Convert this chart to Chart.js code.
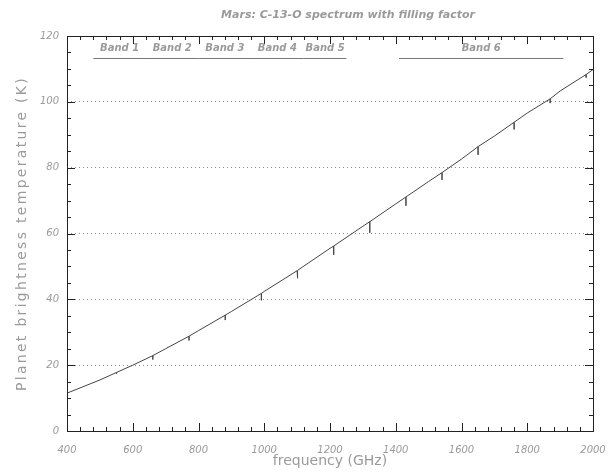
<!DOCTYPE html>
<html>
<head>
<meta charset="utf-8">
<title>Mars C-13-O spectrum</title>
<script src="https://cdn.jsdelivr.net/npm/chart.js@4.4.1/dist/chart.umd.min.js"></script>
<style>
  body { margin: 0; background: #fff; }
</style>
</head>
<body>
<canvas id="spectrumChart" width="616" height="472"></canvas>
<script>
// continuum brightness temperature (K), sampled every 100 GHz
let freqGrid = [400, 500, 600, 700, 800, 900, 1000, 1100, 1200, 1300, 1400, 1500, 1600, 1700, 1800, 1900, 2000];
let continuumK = [11.5, 15.5, 20.0, 25.0, 30.5, 36.3, 42.4, 48.7, 55.5, 62.2, 69.0, 75.8, 82.6, 89.6, 96.6, 103.3, 109.8];

// C-13-O lines: frequency (GHz), continuum at the line (K), absorption depth (K)
let lineFreq = [550.9, 661.1, 771.2, 881.3, 991.3, 1101.3, 1211.3, 1321.1, 1431.0, 1540.7, 1650.4, 1760.0, 1869.6, 1979.0];
let lineTopK = [17.8, 22.9, 28.8, 35.2, 41.8, 48.8, 56.2, 63.6, 71.1, 78.5, 86.4, 93.8, 100.9, 108.3];
let lineDepthK = [0.4, 1.2, 1.3, 1.5, 2.1, 2.4, 2.7, 3.4, 2.7, 2.2, 2.5, 2.2, 1.3, 1.0];

// HIFI mixer bands
let bandNames = ['Band 1', 'Band 2', 'Band 3', 'Band 4', 'Band 5', 'Band 6'];
let bandStart = [480, 640, 800, 960, 1120, 1410];
let bandEnd = [640, 800, 960, 1120, 1250, 1910];

let freqTicks = [400, 600, 800, 1000, 1200, 1400, 1600, 1800, 2000];
let tempTicks = [0, 20, 40, 60, 80, 100, 120];

const chartTitle = 'Mars: C-13-O spectrum with filling factor';

// merge continuum and line profiles into one trace
let spectrum = freqGrid.map((f, i) => ({ x: f, y: continuumK[i] }));
lineFreq.forEach((f, i) => {
    spectrum.push({ x: f, y: lineTopK[i] });
    spectrum.push({ x: f, y: lineTopK[i] - lineDepthK[i] });
    spectrum.push({ x: f, y: lineTopK[i] });
});
spectrum.sort((a, b) => a.x - b.x);

const textGrey = '#9a9a9a';

// box frame, inward ticks on all four sides, band labels, title
const frameAndBands = {
    id: 'frameAndBands',
    afterDraw(chart) {
        const { ctx, chartArea: a, scales: { x, y } } = chart;
        ctx.save();
        ctx.strokeStyle = '#222';
        ctx.lineWidth = 1;
        ctx.strokeRect(a.left + 0.5, a.top + 0.5, a.right - a.left, a.bottom - a.top);

        ctx.beginPath();
        for (let f = x.min; f <= x.max; f += 40) {
            const px = Math.round(x.getPixelForValue(f)) + 0.5;
            const len = f % 200 === 0 ? 8 : 4;
            ctx.moveTo(px, a.bottom); ctx.lineTo(px, a.bottom - len);
            ctx.moveTo(px, a.top); ctx.lineTo(px, a.top + len);
        }
        for (let t = y.min; t <= y.max; t += 5) {
            const py = Math.round(y.getPixelForValue(t)) + 0.5;
            const len = t % 20 === 0 ? 8 : 4;
            ctx.moveTo(a.left, py); ctx.lineTo(a.left + len, py);
            ctx.moveTo(a.right, py); ctx.lineTo(a.right - len, py);
        }
        ctx.stroke();

        ctx.fillStyle = textGrey;
        ctx.textAlign = 'center';
        ctx.textBaseline = 'middle';
        ctx.font = 'italic bold 11px "DejaVu Sans"';
        ctx.fillText(chartTitle, (a.left + a.right) / 2 + 18, 15);

        ctx.font = 'italic bold 10px "DejaVu Sans"';
        ctx.strokeStyle = '#777';
        bandNames.forEach((name, i) => {
            const x0 = x.getPixelForValue(bandStart[i]);
            const x1 = x.getPixelForValue(bandEnd[i]);
            ctx.fillText(name, (x0 + x1) / 2, a.top + 12);
            ctx.beginPath();
            ctx.moveTo(x0, a.top + 22.5);
            ctx.lineTo(x1, a.top + 22.5);
            ctx.stroke();
        });
        ctx.restore();
    }
};

// y title is set with wide letter spacing
function spaceOutTitle(scale) {
    if (scale._spacedTitle) return;
    const drawTitle = scale.drawTitle.bind(scale);
    scale.drawTitle = () => {
        scale.ctx.save();
        scale.ctx.letterSpacing = '2.3px';
        drawTitle();
        scale.ctx.restore();
    };
    scale._spacedTitle = true;
}

let spectrumConfig = {
    type: 'line',
    data: {
        datasets: [{
            data: spectrum,
            borderColor: '#444',
            borderWidth: 1,
            pointRadius: 0,
            tension: 0
        }]
    },
    options: {
        responsive: false,
        animation: false,
        layout: { padding: { left: 0, right: 23, top: 36, bottom: 0 } },
        plugins: {
            legend: { display: false },
            tooltip: { enabled: false },
            title: { display: false }
        },
        scales: {
            x: {
                type: 'linear',
                min: 400,
                max: 2000,
                afterBuildTicks: scale => { scale.ticks = freqTicks.map(v => ({ value: v })); },
                afterFit: scale => { scale.height = 41; },
                grid: { display: false },
                border: { display: false },
                ticks: {
                    color: textGrey,
                    padding: 5,
                    maxRotation: 0,
                    callback: v => String(v),
                    font: { family: '"DejaVu Sans"', size: 10, style: 'italic' }
                },
                title: {
                    display: true,
                    text: 'frequency (GHz)',
                    color: textGrey,
                    padding: { top: 2, bottom: 2 },
                    font: { family: '"DejaVu Sans"', size: 14 }
                }
            },
            y: {
                min: 0,
                max: 120,
                afterBuildTicks: scale => { scale.ticks = tempTicks.map(v => ({ value: v })); },
                afterFit: scale => { scale.width = 67; spaceOutTitle(scale); },
                grid: {
                    drawTicks: false,
                    color: c => (c.tick && c.tick.value > 0 && c.tick.value < 120) ? '#8c8c8c' : 'rgba(0,0,0,0)'
                },
                border: { display: false, dash: [1, 3] },
                ticks: {
                    color: textGrey,
                    padding: 8,
                    font: { family: '"DejaVu Sans"', size: 10, style: 'italic' }
                },
                title: {
                    display: true,
                    text: 'Planet brightness temperature (K)',
                    color: textGrey,
                    padding: { top: 14, bottom: 4 },
                    font: { family: '"DejaVu Sans"', size: 14 }
                }
            }
        }
    },
    plugins: [frameAndBands]
};

window.onload = function() {
    let ctx = document.getElementById('spectrumChart').getContext('2d');
    window.spectrumChart = new Chart(ctx, spectrumConfig);
};
</script>
</body>
</html>
